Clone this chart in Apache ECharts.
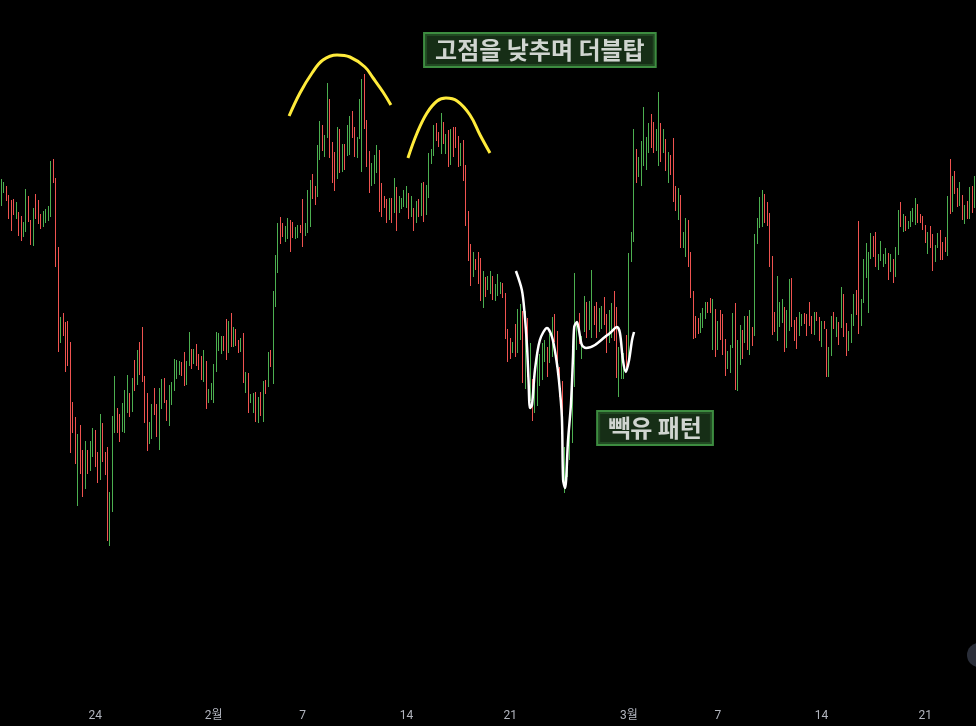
<!DOCTYPE html>
<html>
<head>
<meta charset="utf-8">
<script src="https://cdn.jsdelivr.net/npm/echarts@6/dist/echarts.min.js"></script>
<style>
html,body{margin:0;padding:0;background:#000;}
#chart{width:976px;height:726px;}
</style>
</head>
<body>
<div id="chart"></div>
<script>
// 4-hour candles (price index units), first candle 2022-01-17 16:00
const startTime = Date.UTC(2022, 0, 17, 16);
const candleHours = 4;

const highs = [
821,818,814,805,800,801,798,788,784,778,
811,804,780,792,806,800,786,789,791,794,
839,841,822,753,683,687,678,679,658,598,
583,566,575,550,559,550,559,572,570,548,
586,577,548,553,508,584,624,592,586,597,
610,625,607,622,640,650,658,673,624,607,
578,596,612,596,612,621,622,600,615,618,
641,640,639,638,648,639,668,651,651,656,
646,644,650,639,611,617,636,668,667,664,
664,681,679,687,673,671,660,662,667,628,
627,606,607,608,603,608,619,620,648,650,
709,745,777,783,777,774,782,780,778,773,
775,775,801,777,810,820,826,814,855,879,
875,865,917,901,858,848,873,871,856,856,
875,884,889,873,863,901,921,926,880,849,
837,845,855,850,817,804,801,802,802,822,
813,804,802,810,814,807,804,792,799,801,
817,818,815,847,851,875,877,868,887,878,
866,870,871,873,873,864,857,860,835,789,
756,748,741,748,742,729,723,724,729,724,
716,726,718,717,707,671,662,658,676,691,
696,689,689,682,657,621,615,644,646,657,
660,653,666,683,686,669,633,619,553,563,
573,638,727,678,687,664,704,698,699,730,
694,698,692,694,703,686,690,697,709,693,
653,644,647,665,747,768,871,851,843,859,
893,863,877,886,878,871,908,877,871,861,
848,845,862,814,812,805,768,782,780,748,
709,684,682,687,692,698,698,702,701,691,
679,690,686,661,649,655,687,697,660,675,
670,684,684,690,673,766,782,803,810,806,
798,787,744,688,724,698,701,693,690,721,
722,680,683,688,686,687,686,698,684,688,
688,683,679,679,671,653,684,688,683,678,
713,706,677,669,686,706,710,779,701,741,
757,748,767,764,768,746,759,746,752,747,
746,741,753,790,798,786,784,779,789,792,
802,796,786,784,775,768,774,766,755,767,
770,758,763,804,841,824,829,812,818,805,
795,799,813,814,824
];

const lows = [
794,807,799,781,769,785,781,764,759,763,
768,778,755,754,781,776,771,773,777,779,
783,817,733,648,657,664,628,634,547,567,
536,494,526,503,511,526,529,543,533,517,
520,538,525,459,454,488,567,567,558,568,
567,587,583,588,609,615,625,618,577,549,
556,561,585,563,550,591,597,579,574,595,
609,621,625,624,614,615,634,631,636,634,
630,620,618,591,597,600,597,628,649,646,
649,640,647,653,653,654,647,648,617,607,
587,597,587,578,577,584,578,606,613,633,
616,693,727,756,763,758,761,748,762,761,
762,767,753,764,767,773,801,795,803,840,
849,843,862,842,817,809,821,827,828,830,
844,845,862,843,842,861,828,871,833,807,
814,816,827,788,783,792,777,780,777,787,
769,787,791,793,792,781,783,769,777,783,
784,778,785,802,836,844,859,853,846,856,
846,833,835,843,852,833,834,819,774,739,
714,723,730,716,699,692,703,710,706,700,
699,704,706,702,661,638,641,647,643,647,
660,617,611,623,599,579,587,594,614,620,
638,623,637,643,658,628,603,520,507,523,
540,557,613,650,656,641,668,662,670,662,
675,662,668,671,675,647,657,662,659,622,
603,621,621,629,640,738,758,817,823,814,
834,830,847,852,847,849,834,838,847,829,
817,825,798,789,780,752,752,743,733,702,
661,662,666,667,672,681,687,687,650,643,
650,660,645,624,631,627,652,610,609,635,
641,657,650,645,654,664,756,772,773,777,
774,733,665,668,659,673,677,648,652,669,
673,659,651,664,674,676,664,674,666,665,
679,659,653,671,623,623,644,671,663,655,
672,663,644,649,657,674,685,666,674,697,
722,687,741,743,733,730,739,733,736,720,
728,717,723,745,773,768,769,771,773,778,
775,777,777,770,757,746,752,729,738,752,
740,740,748,744,786,788,806,793,794,780,
776,781,781,787,792
];

// 1 = rising candle (green), 0 = falling candle (red)
const ups = [
1,1,0,0,0,0,1,0,0,1, 1,0,0,1,0,0,0,1,1,1, 1,0,0,0,1,0,0,0,0,0, 0,1,0,0,1,0,1,1,0,0,
1,0,0,0,1,1,1,0,0,1, 1,1,0,1,0,1,0,0,0,0, 1,1,0,0,1,1,0,0,1,1, 1,1,1,0,0,1,1,0,1,0,
0,0,1,0,1,1,1,1,1,1, 0,0,1,0,1,0,0,1,0,1, 0,1,1,0,1,0,1,0,1,0, 1,1,1,0,0,1,1,0,0,1,
1,0,0,1,1,1,0,0,1,1, 0,1,1,0,0,0,1,0,1,0, 1,1,0,0,1,1,1,0,0,0, 1,1,1,0,0,0,0,1,0,1,
0,1,1,1,1,0,1,0,1,0, 1,0,1,1,1,1,0,0,1,0, 1,0,1,0,0,0,1,0,0,0, 0,1,0,0,0,1,0,1,1,0,
1,1,1,0,0,0,0,1,0,1, 1,0,1,0,1,0,1,1,1,1, 1,0,1,1,0,0,0,0,1,1, 1,1,1,1,0,1,1,0,1,1,
0,0,1,1,0,0,1,1,0,0, 1,1,1,0,1,1,1,0,1,1, 1,1,1,0,0,1,1,0,1,0, 1,0,0,0,1,0,1,1,0,0,
0,0,0,1,1,1,0,0,1,0, 1,0,0,0,1,1,1,0,1,1, 0,1,0,1,0,1,1,1,1,0, 0,0,0,0,1,1,1,0,1,1,
0,0,0,1,1,0,0,0,0,1, 0,0,1,0,0,1,1,0,1,0, 1,0,0,1,1,1,0,0,1,1, 1,1,1,0,0,1,1,1,1,0,
1,0,1,1,0,1,0,1,1,1, 1,0,0,0,0,1,0,0,1,1, 0,0,0,1,0,1,0,0,1,0, 1,0,1,0,1
];

// axis tick labels
const tickDates = ['2022-01-24','2022-02-01','2022-02-07','2022-02-14','2022-02-21','2022-03-01','2022-03-07','2022-03-14','2022-03-21'];
const tickLabels = ['24','2월','7','14','21','3월','7','14','21'];

// drawn annotations, x in candle-index units, y in price units
const arcLeft = [[116.5,884],[120.9,907],[125.8,927],[130.2,940],[135.9,945],[141.1,943],[147.2,933],[150.5,922],[154.5,908],[157.7,895]];
const arcRight = [[164.6,842],[168.3,867],[172.3,887],[176.4,899],[180.0,902],[184.5,899],[189.7,885],[193.8,865],[197.8,847]];
const vCurve = [[208.3,729],[210.7,710],[211.8,687],[212.8,653],[213.4,620],[214.0,592],[214.8,595],[216.0,630],[218.0,660],[220.9,672],[222.9,663],[224.5,643],[225.7,620],[226.9,583],[227.4,520],[228.2,512],[229.4,560],[230.6,597],[231.4,643],[231.9,673],[233.0,678],[233.8,670],[235.0,655],[236.7,652],[240.3,655],[244.3,663],[246.4,667],[249.2,673],[250.4,667],[251.6,640],[252.8,628],[254.1,640],[255.3,660],[256.1,668]];
const noteTexts = ['고점을 낮추며 더블탑', '빽유 패턴'];
const notePoints = [[218.0, 950], [264.6, 572]];

function pad(n){ return n < 10 ? '0' + n : '' + n; }
const categories = highs.map((_, i) => {
  const d = new Date(startTime + i * candleHours * 3600000);
  return d.getUTCFullYear() + '-' + pad(d.getUTCMonth() + 1) + '-' + pad(d.getUTCDate()) + ' ' + pad(d.getUTCHours()) + ':00';
});
const tickMap = {};
tickDates.forEach((d, k) => { tickMap[d + ' 00:00'] = tickLabels[k]; });

// [index, low, high, up]
const candles = highs.map((h, i) => [i, lows[i], h, ups[i]]);

const UP = '#4caf50', DOWN = '#f05350';
const N = highs.length;

const chart = echarts.init(document.getElementById('chart'), null, {renderer: 'canvas'});
chart.setOption({
  backgroundColor: '#000000',
  animation: false,
  grid: {left: 0, right: 0, top: 0, bottom: 26},
  xAxis: [{
    type: 'category',
    data: categories,
    boundaryGap: true,
    axisLine: {show: false},
    axisTick: {show: false},
    splitLine: {show: false},
    axisLabel: {
      color: '#b2b5be',
      fontSize: 12,
      fontFamily: 'Roboto, "Noto Sans CJK KR", sans-serif',
      margin: 10,
      interval: (idx, val) => tickMap[val] !== undefined,
      formatter: (val) => tickMap[val] || ''
    }
  }, {
    type: 'value',
    min: -0.5,
    max: N - 0.5,
    show: false
  }],
  yAxis: {
    type: 'value',
    min: 300,
    max: 1000,
    show: false,
    splitLine: {show: false}
  },
  series: [{
    type: 'custom',
    data: candles,
    encode: {x: 0, y: [1, 2]},
    renderItem: function (params, api) {
      const i = api.value(0);
      const lo = api.coord([i, api.value(1)]);
      const hi = api.coord([i, api.value(2)]);
      const x = Math.floor(lo[0]) + 0.5;
      return {
        type: 'line',
        shape: {x1: x, y1: hi[1], x2: x, y2: lo[1]},
        style: {stroke: api.value(3) ? UP : DOWN, lineWidth: 1}
      };
    }
  }, {
    type: 'line', xAxisIndex: 1, data: arcLeft, smooth: 0.4, symbol: 'none',
    lineStyle: {color: '#ffeb3b', width: 3}
  }, {
    type: 'line', xAxisIndex: 1, data: arcRight, smooth: 0.4, symbol: 'none',
    lineStyle: {color: '#ffeb3b', width: 3}
  }, {
    type: 'line', xAxisIndex: 1, data: vCurve, smooth: 0.3, symbol: 'none',
    lineStyle: {color: '#ffffff', width: 2.5}
  }, {
    type: 'scatter', xAxisIndex: 1, symbolSize: 0,
    data: notePoints.map((p, k) => ({value: p, name: noteTexts[k]})),
    label: {
      show: true,
      position: 'inside',
      formatter: (p) => p.name,
      color: '#ffffff',
      fontSize: 24,
      fontWeight: 'bold',
      fontFamily: '"Noto Sans CJK KR", sans-serif',
      backgroundColor: '#1b3a1b',
      borderColor: '#4caf50',
      borderWidth: 2,
      padding: [3, 10, 2, 10],
      lineHeight: 27
    }
  }],
  graphic: [{
    type: 'circle',
    shape: {cx: 979, cy: 655, r: 12},
    style: {fill: '#2a2e39'}
  }]
});
</script>
</body>
</html>
